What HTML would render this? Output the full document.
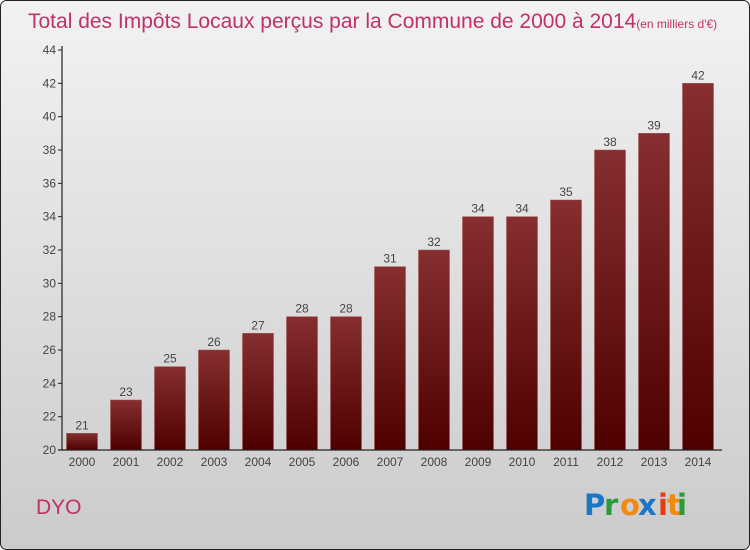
<!DOCTYPE html>
<html><head><meta charset="utf-8"><style>
body{margin:0;}
#wrap{width:750px;height:550px;position:relative;overflow:hidden;font-family:"Liberation Sans",sans-serif;}
</style></head><body>
<div id="wrap">
<svg id="chart" width="750" height="550" xmlns="http://www.w3.org/2000/svg">
<defs>
<linearGradient id="bg" x1="0" y1="0" x2="0" y2="1"><stop offset="0" stop-color="#f2f2f2"/><stop offset="1" stop-color="#cbcbcb"/></linearGradient>
<linearGradient id="bar" x1="0" y1="0" x2="0" y2="1"><stop offset="0" stop-color="#862e30"/><stop offset="1" stop-color="#4e0000"/></linearGradient>
</defs>
<rect x="0.5" y="0.5" width="749" height="549" rx="6" fill="url(#bg)" stroke="#222"/>
<text x="28" y="28" font-size="21" fill="#c0306a">Total des Impôts Locaux perçus par la Commune de 2000 à 2014<tspan font-size="12">(en milliers d'€)</tspan></text>
<g id="grid"></g><g id="bars"></g><g id="axes"></g>
<text x="36" y="514" font-size="21" fill="#c0306a">DYO</text>
<g font-size="29" font-family="'DejaVu Sans',sans-serif" font-weight="bold">
<text x="584" y="515" fill="#1a76c8">P</text><text x="604" y="515" fill="#2a9a3a">r</text><text x="620" y="515" fill="#f08a10">o</text><text x="638" y="515" fill="#1a76c8">x</text><text x="658" y="515" fill="#e83a10">i</text><text x="667" y="515" fill="#f08a10">t</text><text x="677" y="515" fill="#2a9a3a">i</text>
</g>
</svg>
<script>
const categories=["2000","2001","2002","2003","2004","2005","2006","2007","2008","2009","2010","2011","2012","2013","2014"];
const values=[21,23,25,26,27,28,28,31,32,34,34,35,38,39,42];
const yTicks=[20,22,24,26,28,30,32,34,36,38,40,42,44];
const NS="http://www.w3.org/2000/svg";
const y0=450,y1=50,vmin=20,vmax=44,x0=62,step=44,first=82,bw=31;
function yScale(v){return y0-(v-vmin)/(vmax-vmin)*(y0-y1);}
function xScale(i){return first+i*step;}
function mk(tag,attrs,parent){const e=document.createElementNS(NS,tag);for(const k in attrs)e.setAttribute(k,attrs[k]);parent.appendChild(e);return e;}
const axes=document.getElementById('axes'),bars=document.getElementById('bars');
yTicks.forEach(t=>{
  const y=yScale(t);
  const tk=mk('line',{x1:x0-4,x2:x0,y1:y,y2:y,stroke:'#222'},axes);
  
  
  const tx=mk('text',{x:x0-6,y:y+4,'text-anchor':'end','font-size':12,fill:'#444'},axes);
  tx.textContent=t;
  
  
});
values.forEach((v,i)=>{
  const cx=xScale(i),y=yScale(v);
  const r=mk('rect',{x:cx-bw/2,y:y,width:bw,height:y0-y,fill:'url(#bar)',stroke:'#a05050','stroke-width':0.5},bars);
  
  
  const l=mk('text',{x:cx,y:y-4,'text-anchor':'middle','font-size':12,fill:'#444'},bars);
  l.textContent=v;
  
  
  const c=mk('text',{x:cx,y:y0+16,'text-anchor':'middle','font-size':12,fill:'#444'},axes);
  c.textContent=categories[i];
  
  
});
const ya=mk('line',{x1:x0,x2:x0,y1:y1-4,y2:y0,stroke:'#222','stroke-width':1.2},axes);


const xa=mk('line',{x1:x0-4,x2:722,y1:y0,y2:y0,stroke:'#222','stroke-width':1.2},axes);


</script>
</div>
</body></html>
